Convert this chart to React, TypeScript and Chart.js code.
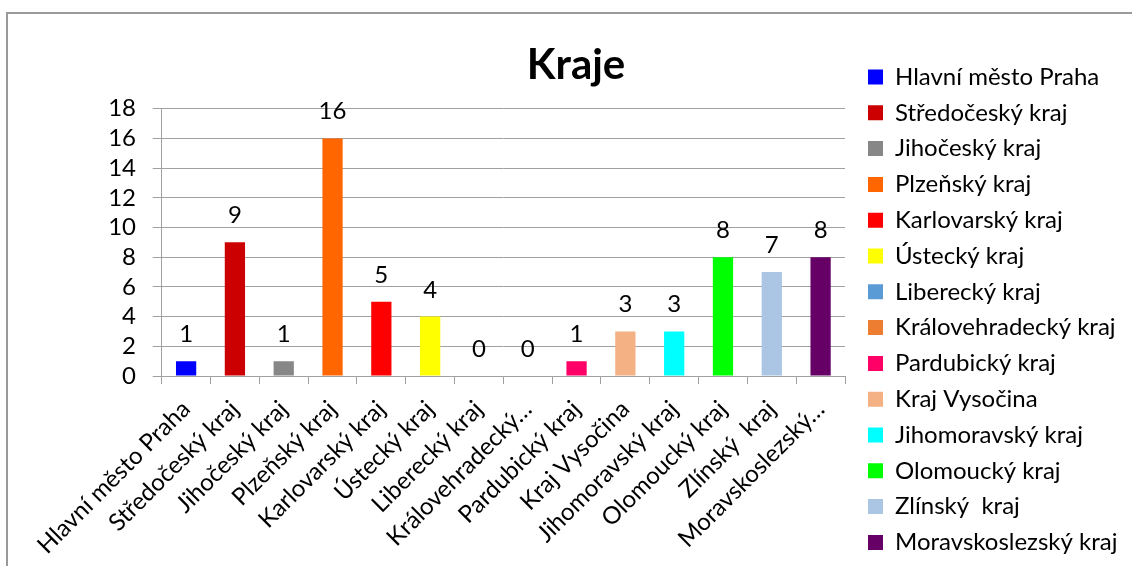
import React, { useEffect, useRef } from "react";
import { Chart, registerables } from "chart.js";

Chart.register(...registerables);

const categories = [
  "Hlavní město Praha",
  "Středočeský kraj",
  "Jihočeský kraj",
  "Plzeňský kraj",
  "Karlovarský kraj",
  "Ústecký kraj",
  "Liberecký kraj",
  "Královehradecký kraj",
  "Pardubický kraj",
  "Kraj Vysočina",
  "Jihomoravský kraj",
  "Olomoucký kraj",
  "Zlínský  kraj",
  "Moravskoslezský kraj",
];

const tickLabels = [
  "Hlavní město Praha",
  "Středočeský kraj",
  "Jihočeský kraj",
  "Plzeňský kraj",
  "Karlovarský kraj",
  "Ústecký kraj",
  "Liberecký kraj",
  "Královehradecký…",
  "Pardubický kraj",
  "Kraj Vysočina",
  "Jihomoravský kraj",
  "Olomoucký kraj",
  "Zlínský  kraj",
  "Moravskoslezský…",
];

const values = [1, 9, 1, 16, 5, 4, 0, 0, 1, 3, 3, 8, 7, 8];

const colors = [
  "#0000FF",
  "#CC0000",
  "#878787",
  "#FF6600",
  "#FF0000",
  "#FFFF00",
  "#5B9BD5",
  "#ED7D31",
  "#FF0066",
  "#F4B183",
  "#00FFFF",
  "#00FF00",
  "#ABC5E4",
  "#660066",
];

const FONT = "Lato";
const FS = 24;
const LEGEND_PAD = 11.8;

const valueLabels = {
  id: "valueLabels",
  afterDatasetsDraw(chart: any) {
    const ctx = chart.ctx;
    const meta = chart.getDatasetMeta(0);
    ctx.save();
    ctx.font = `${FS}px ${FONT}`;
    ctx.fillStyle = "#000";
    ctx.textAlign = "center";
    ctx.textBaseline = "alphabetic";
    meta.data.forEach((bar: any, i: number) => {
      ctx.fillText(String(values[i]), bar.x, bar.y - 19);
    });
    ctx.restore();
  },
};

const frame = {
  id: "frame",
  beforeDraw(chart: any) {
    const ctx = chart.ctx;
    ctx.save();
    ctx.fillStyle = "#fff";
    ctx.fillRect(0, 0, chart.width, chart.height);
    ctx.strokeStyle = "#9a9a9a";
    ctx.lineWidth = 2;
    ctx.beginPath();
    ctx.moveTo(7, chart.height);
    ctx.lineTo(7, 13);
    ctx.lineTo(chart.width, 13);
    ctx.stroke();
    ctx.restore();
  },
};

const legendPlace = {
  id: "legendPlace",
  afterLayout(chart: any) {
    const lg = chart.legend;
    if (!lg) return;
    const dx = 868 - (lg.left + LEGEND_PAD);
    lg.left += dx;
    lg.right += dx;
    lg.top += 16.7;
    lg.bottom += 16.7;
  },
};

export default function App() {
  const ref = useRef<HTMLCanvasElement | null>(null);

  useEffect(() => {
    if (!ref.current) return;
    Chart.defaults.font.family = FONT;
    const chart = new Chart(ref.current, {
      type: "bar",
      data: {
        labels: categories,
        datasets: [
          {
            label: "Kraje",
            data: values,
            backgroundColor: colors,
            borderWidth: 0,
            categoryPercentage: 1,
            barPercentage: 0.415,
          },
        ],
      },
      options: {
        responsive: false,
        animation: false,
        layout: { padding: { left: 38, right: 18, top: 20, bottom: 0 } },
        plugins: {
          title: {
            display: true,
            text: "Kraje",
            color: "#000",
            font: { family: FONT, size: 42, weight: "bold" },
            padding: { top: 20, bottom: 18.3 },
          },
          legend: {
            position: "right",
            align: "center",
            onClick: () => {},
            labels: {
              boxWidth: 15,
              boxHeight: 15,
              padding: LEGEND_PAD,
              color: "#000",
              font: { family: FONT, size: FS },
              generateLabels: () =>
                categories.map((c, i) => ({
                  text: c,
                  fillStyle: colors[i],
                  strokeStyle: colors[i],
                  lineWidth: 0,
                  hidden: false,
                  index: i,
                  datasetIndex: 0,
                })),
            },
          },
          tooltip: { enabled: false },
        },
        scales: {
          x: {
            afterFit: (s: any) => {
              s.height = 190;
            },
            grid: {
              drawOnChartArea: false,
              drawTicks: true,
              tickLength: 8,
              color: "#a0a0a0",
              offset: true,
            },
            border: { color: "#a0a0a0" },
            ticks: {
              minRotation: 45,
              maxRotation: 45,
              autoSkip: false,
              padding: 11,
              color: "#000",
              font: { family: FONT, size: FS },
              callback: (_v: any, i: number) => tickLabels[i],
            },
          },
          y: {
            min: 0,
            max: 18,
            afterFit: (s: any) => {
              s.width = 123.7;
            },
            ticks: {
              stepSize: 2,
              autoSkip: false,
              padding: 16.7,
              color: "#000",
              font: { family: FONT, size: FS },
            },
            grid: { color: "#a0a0a0", tickLength: 9 },
            border: { color: "#a0a0a0" },
          },
        },
      },
      plugins: [frame, valueLabels, legendPlace],
    });
    return () => chart.destroy();
  }, []);

  return (
    <div style={{ position: "absolute", left: 0, top: 0, width: 1132, height: 566 }}>
      <canvas ref={ref} width={1132} height={566} style={{ display: "block" }} />
    </div>
  );
}
